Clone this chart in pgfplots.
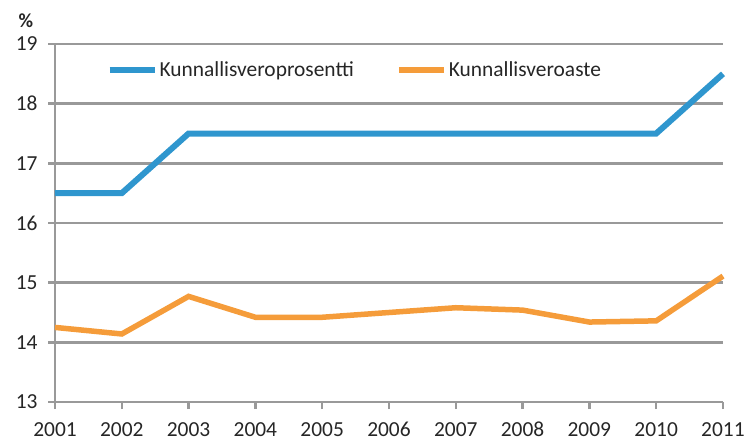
\documentclass[border=0pt]{standalone}
\usepackage{fontspec}
\setmainfont{Carlito}
\usepackage{pgfplots}
\pgfplotsset{compat=1.18}
\definecolor{cblue}{RGB}{47,150,206}
\definecolor{corange}{RGB}{245,156,58}
\definecolor{cgrid}{RGB}{153,153,153}
\begin{document}
\begin{tikzpicture}
\begin{axis}[
  at={(0,0)}, anchor=origin,
  scale only axis,
  width=668bp, height=358bp,
  xmin=2001, xmax=2011, ymin=13, ymax=19,
  xtick={2001,...,2011}, ytick={13,...,19},
  /pgf/number format/assume math mode=true,
  /pgf/number format/1000 sep={},
  axis lines=left,
  axis line style={-, cgrid, line width=2.5bp},
  ymajorgrids,
  grid style={cgrid, line width=2.5bp},
  tick style={cgrid, line width=2.5bp},
  tick align=outside,
  major tick length=7bp,
  ticklabel style={font=\fontsize{21.5}{24}\selectfont, text=black!85},
  xticklabel style={yshift=-9bp, text height=15bp, text depth=0bp},
  yticklabel style={xshift=-7bp},
  clip=false,
  legend columns=2,
  legend style={draw=none, fill=none, at={(0.077,0.927)}, anchor=west, inner sep=0pt,
    font=\fontsize{21.5}{24}\selectfont, text=black!85,
    /tikz/every even column/.append style={column sep=40bp}},
  legend cell align=left,
  legend image code/.code={\draw[#1, line width=6bp] (0bp,0bp) -- (45bp,0bp);},
]
\addplot[cblue, line width=6bp, line join=miter] coordinates {
(2001,16.5) (2002,16.5) (2003,17.5) (2004,17.5) (2005,17.5) (2006,17.5)
(2007,17.5) (2008,17.5) (2009,17.5) (2010,17.5) (2011,18.5)};
\addlegendentry{Kunnallisveroprosentti}
\addplot[corange, line width=5.5bp, line join=miter] coordinates {
(2001,14.25) (2002,14.14) (2003,14.77) (2004,14.42) (2005,14.42) (2006,14.50)
(2007,14.58) (2008,14.54) (2009,14.34) (2010,14.36) (2011,15.11)};
\addlegendentry{Kunnallisveroaste}
\node[font=\bfseries\fontsize{20}{24}\selectfont, text=black!85] at (-29bp,381bp) {\%};
\end{axis}
\pgfresetboundingbox
\useasboundingbox (-55bp,-39bp) rectangle (693bp,402bp);
\end{tikzpicture}
\end{document}
